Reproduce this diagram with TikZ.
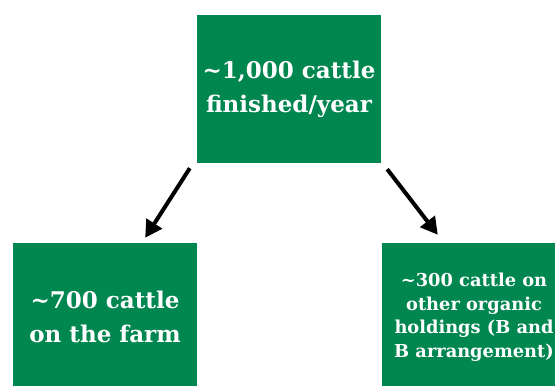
\documentclass[tikz,border=0pt]{standalone}
\usepackage{fontspec}
\setmainfont{DejaVu Serif}
\usetikzlibrary{arrows.meta}
\definecolor{herdgreen}{HTML}{00874F}
\begin{document}
\begin{tikzpicture}[x=1pt, y=1pt, line join=round, >={Triangle[length=17pt,width=18pt]}]
% Thông số các ô
\def\boxw{184}
\def\boxh{148}
\tikzset{herdbox/.style={fill=herdgreen, text=white, font=\bfseries, align=center,
  minimum width=\boxw pt, minimum height=\boxh pt, inner sep=0pt}}
% Khung ảnh
\useasboundingbox (0,0) rectangle (555,386);
\clip (0,0) rectangle (555,386);
% Các ô
\node[herdbox, font=\bfseries\fontsize{23}{34}\selectfont] (total) at (289,297)
  {\textasciitilde1,000 cattle\\finished/year};
\node[herdbox, font=\bfseries\fontsize{23}{34}\selectfont] (farm) at (105,69)
  {\textasciitilde700 cattle\\on the farm};
\node[herdbox, font=\bfseries\fontsize{17.8}{23.5}\selectfont] (other) at (474,69)
  {\textasciitilde300 cattle on\\other organic\\holdings (B and\\B arrangement)};
% Mũi tên
\draw[->, line width=4pt] ([xshift=-7pt,yshift=-5pt]total.south west) -- ([xshift=-52pt,yshift=5pt]farm.north east);
\draw[->, line width=4pt] ([xshift=6pt,yshift=-6pt]total.south east) -- ([xshift=56pt,yshift=8pt]other.north west);
\end{tikzpicture}
\end{document}
